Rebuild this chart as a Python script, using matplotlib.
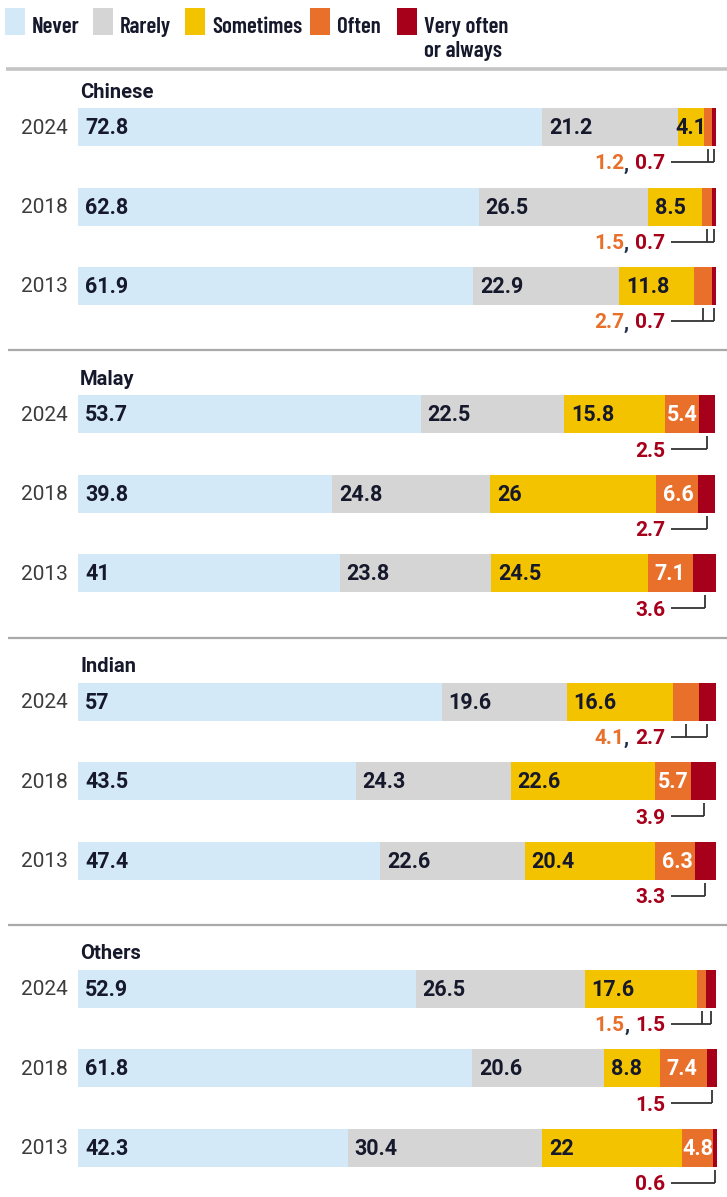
import matplotlib
matplotlib.use("Agg")
import matplotlib.pyplot as plt
from matplotlib.patches import Rectangle
from matplotlib.offsetbox import TextArea, HPacker, AnnotationBbox

# ---------------- data ----------------
groups = ["Chinese", "Malay", "Indian", "Others"]
years = ["2024", "2018", "2013"]
categories = ["Never", "Rarely", "Sometimes", "Often", "Very often\nor always"]

never = [[72.8, 62.8, 61.9], [53.7, 39.8, 41], [57, 43.5, 47.4], [52.9, 61.8, 42.3]]
rarely = [[21.2, 26.5, 22.9], [22.5, 24.8, 23.8], [19.6, 24.3, 22.6], [26.5, 20.6, 30.4]]
sometimes = [[4.1, 8.5, 11.8], [15.8, 26, 24.5], [16.6, 22.6, 20.4], [17.6, 8.8, 22]]
often = [[1.2, 1.5, 2.7], [5.4, 6.6, 7.1], [4.1, 5.7, 6.3], [1.5, 7.4, 4.8]]
very_often = [[0.7, 0.7, 0.7], [2.5, 2.7, 3.6], [2.7, 3.9, 3.3], [1.5, 1.5, 0.6]]

# ---------------- style ----------------
colors = ["#d4e9f8", "#d5d5d5", "#f4c300", "#e8702a", "#a6001b"]
txt_dark = "#16192b"
NUMFONT = ["Roboto", "DejaVu Sans"]
LEGFONT = ["Barlow Condensed", "Roboto", "DejaVu Sans"]

W, H = 727, 1197
X0, X1 = 78, 716
scale = (X1 - X0) / 100.0


def px(xp):
    return (xp - X0) / scale


fig = plt.figure(figsize=(W / 100, H / 100), dpi=100)
ax = fig.add_axes([0, 0, 1, 1])
ax.set_xlim(px(0), px(W))
ax.set_ylim(H, 0)
ax.axis("off")
renderer = fig.canvas.get_renderer()

# ---------------- legend ----------------
leg_patch_x = [5, 93, 185, 310, 397]
for i, cat in enumerate(categories):
    ax.add_patch(Rectangle((px(leg_patch_x[i]), 8), 20 / scale, 27,
                           facecolor=colors[i], edgecolor="none", clip_on=False))
    for j, line in enumerate(cat.split("\n")):
        ax.text(px(leg_patch_x[i] + 27), 33 + 24 * j, line, ha="left",
                va="baseline", fontsize=16.5, family=LEGFONT, fontweight=600,
                color=txt_dark)

# header rule
ax.plot([px(6), px(W)], [69, 69], color="#c4c4c4", lw=2.6, solid_capstyle="butt")

bar_h = 38
group_pitch = 287.3
bar_pitch = 79.5
first_center = 127

for g, grp in enumerate(groups):
    gc = first_center + g * group_pitch
    if g > 0:
        ax.plot([px(8), px(W)], [gc - 64, gc - 64], color="#a9a9a9", lw=1.6,
                solid_capstyle="butt")
    ax.text(px(80), gc - 35, grp, ha="left", va="center", fontsize=14.5,
            family=NUMFONT, fontweight="bold", color=txt_dark)
    for i, yr in enumerate(years):
        yc = gc + i * bar_pitch
        vals = [never[g][i], rarely[g][i], sometimes[g][i], often[g][i], very_often[g][i]]
        left = 0.0
        lefts = []
        for k, v in enumerate(vals):
            ax.barh(yc, v, left=left, height=bar_h, color=colors[k], edgecolor="none")
            lefts.append(left)
            left += v
        ax.text(px(68), yc + 1, yr, ha="right", va="center", fontsize=15,
                family=NUMFONT, color="#3c3c3c")

        inside = [0, 1, 2] + ([3] if vals[3] >= 4.5 else [])
        for k in inside:
            col = "white" if k == 3 else txt_dark
            t = ax.text(lefts[k] + 7 / scale, yc + 1, f"{vals[k]:g}", ha="left",
                        va="center", fontsize=15.5, family=NUMFONT,
                        fontweight="bold", color=col)
            wpx = t.get_window_extent(renderer).width
            if wpx + 9 > vals[k] * scale:
                t.set_x(lefts[k] + vals[k] / 2)
                t.set_ha("center")

        below = ([3] if vals[3] < 4.5 else []) + [4]
        parts = []
        for j, k in enumerate(below):
            if j > 0:
                parts.append(TextArea(", ", textprops=dict(
                    color="#1d2b4a", fontsize=15, family=NUMFONT, fontweight="bold")))
            parts.append(TextArea(f"{vals[k]:g}", textprops=dict(
                color=colors[k], fontsize=15, family=NUMFONT, fontweight="bold")))
        box = HPacker(children=parts, pad=0, sep=0, align="baseline")
        bottom = yc + bar_h / 2
        ab = AnnotationBbox(box, (px(665), bottom + 18), xycoords="data",
                            box_alignment=(1, 0.5), frameon=False, pad=0)
        ax.add_artist(ab)

        line_y = bottom + 16
        ticks = [lefts[k] + vals[k] / 2 for k in below]
        ax.plot([px(671), max(ticks)], [line_y, line_y], color="#333333", lw=1.3,
                solid_capstyle="butt")
        for tx in ticks:
            ax.plot([tx, tx], [bottom + 3, line_y], color="#333333", lw=1.3,
                    solid_capstyle="butt")

fig.savefig("out.png", dpi=100)
